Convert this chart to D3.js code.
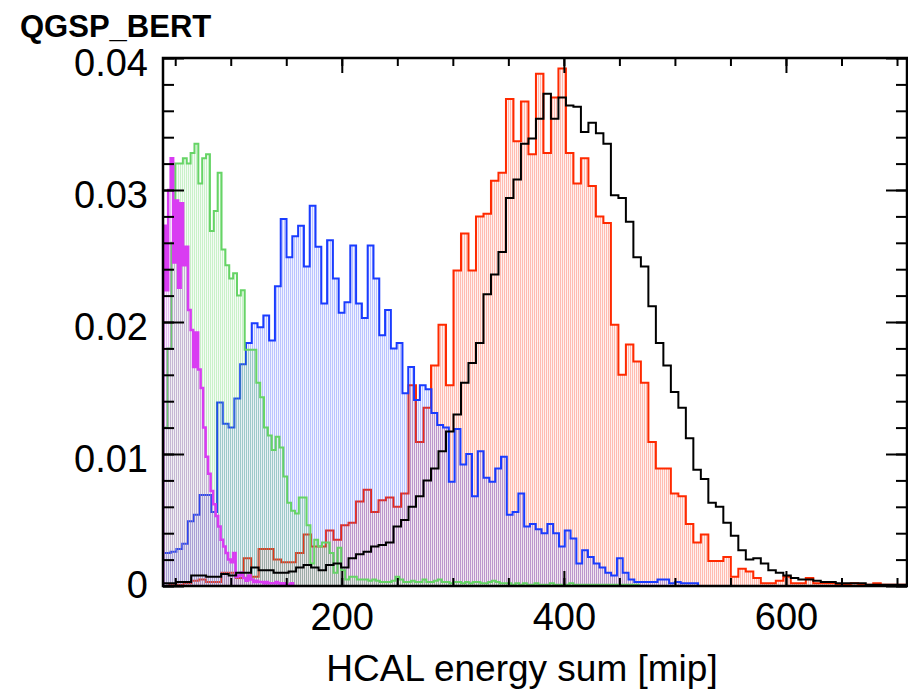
<!DOCTYPE html>
<html>
<head>
<meta charset="utf-8">
<script src="https://d3js.org/d3.v7.min.js"></script>
<style>
  body { margin: 0; background: #fff; }
  text { font-family: "Liberation Sans", Arial, sans-serif; }
</style>
</head>
<body>
<svg width="908" height="694"></svg>
<script>
// axis ticks
var xMajor = [200, 400, 600];
var xMinor = [50, 100, 150, 200, 250, 300, 350, 400, 450, 500, 550, 600, 650, 700];
var yMajor = [0, 0.01, 0.02, 0.03, 0.04];
var yLabels = ['0', '0.01', '0.02', '0.03', '0.04'];
var yMinor = [0, 0.002, 0.004, 0.006, 0.008, 0.01, 0.012, 0.014, 0.016, 0.018, 0.02,
              0.022, 0.024, 0.026, 0.028, 0.03, 0.032, 0.034, 0.036, 0.038, 0.04];

// histograms: first bin low edge, bin width, contents
var magStart = 39.15, magWidth = 2.25;
var magVals = [0.0273, 0.0224, 0.0300, 0.0324, 0.0245, 0.0292, 0.0226, 0.0290, 0.0243, 0.0257,
  0.0209, 0.0194, 0.0166, 0.0192, 0.0164, 0.0150, 0.0120, 0.0098, 0.0085, 0.0072,
  0.0062, 0.0053, 0.0045, 0.0035, 0.0030, 0.0025, 0.0020, 0.0018, 0.0025, 0.0007,
  0.0008, 0.0010, 0.0006, 0.0004, 0.0008, 0.0005, 0.0003, 0.0004, 0.0003, 0.0003,
  0.0002, 0.0003, 0.0002, 0.0002, 0.0002, 0.0003, 0.0002, 0.0001, 0.0002, 0.0001,
  0.0001, 0.0002];

var greenStart = 39.5, greenWidth = 3.48;
var greenVals = [0.012, 0.018, 0.026, 0.0320, 0.0320, 0.0324, 0.0320, 0.0328, 0.0335, 0.0305,
  0.0324, 0.0327, 0.0269, 0.0284, 0.0313, 0.0255, 0.0243, 0.0233, 0.0237, 0.0220,
  0.0224, 0.0179, 0.0179, 0.0179, 0.0154, 0.0143, 0.0120, 0.0114, 0.0103, 0.0113,
  0.0105, 0.0083, 0.0063, 0.0057, 0.0055, 0.0067, 0.0067, 0.0046, 0.0017, 0.0035,
  0.0030, 0.0033, 0.0033, 0.0025, 0.0010, 0.0029, 0.0012, 0.0005, 0.0007, 0.0007,
  0.0005, 0.0005, 0.0005, 0.0004, 0.0005, 0.0004, 0.0003, 0.0003, 0.0003, 0.0004,
  0.0007, 0.0005, 0.0003, 0.0003, 0.0004, 0.0003, 0.0003, 0.0005, 0.0003, 0.0003,
  0.0004, 0.0005, 0.0003, 0.0003, 0.0002, 0.0003, 0.0003, 0.0002, 0.0003, 0.0002,
  0.0003, 0.0003, 0.0002, 0.0002, 0.0003, 0.0004, 0.0003, 0.0002, 0.0002, 0.0002,
  0.0001, 0.0002, 0.0001, 0.0002, 0.0001, 0.0001, 0.0002, 0.0001, 0.0001, 0.0001,
  0.0002, 0.0001, 0.0001, 0.0001, 0.0001, 0.0002, 0.0001, 0.0001, 0.0001, 0.0001,
  0.0001, 0.0001, 0.0001, 0.0001, 0.0001, 0.0001, 0.0001, 0.0001, 0.0001, 0.0001,
  0.0001, 0.0001, 0.0001];

var blueStart = 35.4, blueWidth = 5.22;
var blueVals = [0.0025, 0.0025, 0.0026, 0.0028, 0.0032, 0.0049, 0.0054, 0.0069, 0.0069, 0.0056,
  0.0139, 0.0123, 0.0120, 0.0142, 0.0168, 0.0184, 0.0199, 0.0196, 0.0205, 0.0186,
  0.0227, 0.0278, 0.0249, 0.0265, 0.0273, 0.0242, 0.0288, 0.0257, 0.0214, 0.0262,
  0.0233, 0.0207, 0.0215, 0.0258, 0.0214, 0.0203, 0.0258, 0.0233, 0.0190, 0.0209,
  0.0180, 0.0184, 0.0146, 0.0166, 0.0141, 0.0152, 0.0149, 0.0131, 0.0122, 0.0120,
  0.0079, 0.0119, 0.0092, 0.0100, 0.0068, 0.0102, 0.0082, 0.0079, 0.0089, 0.0098,
  0.0054, 0.0056, 0.0070, 0.0045, 0.0047, 0.0043, 0.0040, 0.0047, 0.0040, 0.0030,
  0.0042, 0.0036, 0.0017, 0.0027, 0.0022, 0.0017, 0.0014, 0.0010, 0.0008, 0.0021,
  0.0010, 0.0005, 0.0003, 0.0003, 0.0003, 0.0003, 0.0005, 0.0005, 0.0002, 0.0003,
  0.0002, 0.0002, 0.0002];

var redStart = 37.35, redWidth = 6.75;
var redVals = [0, 0.0001, 0.0001, 0.0002, 0.0004, 0.0005, 0.0003, 0.0003, 0.0010, 0.0010,
  0.0006, 0.0021, 0.0007, 0.0028, 0.0028, 0.0020, 0.0018, 0.0018, 0.0025, 0.0039,
  0.0030, 0.0030, 0.0042, 0.0035, 0.0046, 0.0048, 0.0064, 0.0073, 0.0056, 0.0065,
  0.0067, 0.0060, 0.0070, 0.0152, 0.0109, 0.0135, 0.0167, 0.0198, 0.0152, 0.0239,
  0.0267, 0.0239, 0.0280, 0.0282, 0.0307, 0.0313, 0.0369, 0.0337, 0.0367, 0.0327,
  0.0388, 0.0328, 0.0370, 0.0392, 0.0328, 0.0305, 0.0324, 0.0303, 0.0280, 0.0275,
  0.0198, 0.0160, 0.0183, 0.0170, 0.0154, 0.0109, 0.0089, 0.0089, 0.0070, 0.0068,
  0.0047, 0.0033, 0.0039, 0.0019, 0.0019, 0.0022, 0.0007, 0.0013, 0.0011, 0.0006,
  0.0002, 0.0002, 0.0004, 0.0007, 0.0002, 0.0002, 0.0006, 0.0002, 0.0002, 0.0002,
  0.0001, 0.0001, 0.0002, 0.0001, 0.0001, 0.0002, 0.0001, 0.0001, 0.0001, 0.0001];

var blackStart = 37.35, blackWidth = 6.75;
var blackVals = [0.0002, 0.0002, 0.0003, 0.0003, 0.0008, 0.0008, 0.0007, 0.0007, 0.0009, 0.0008,
  0.0010, 0.0010, 0.0014, 0.0012, 0.0012, 0.0010, 0.0010, 0.0011, 0.0014, 0.0016,
  0.0014, 0.0012, 0.0016, 0.0017, 0.0014, 0.0021, 0.0024, 0.0026, 0.0030, 0.0031,
  0.0033, 0.0045, 0.0050, 0.0060, 0.0068, 0.0080, 0.0089, 0.0102, 0.0117, 0.0130,
  0.0154, 0.0169, 0.0184, 0.0221, 0.0236, 0.0253, 0.0294, 0.0308, 0.0335, 0.0339,
  0.0354, 0.0373, 0.0354, 0.0370, 0.0364, 0.0363, 0.0344, 0.0351, 0.0343, 0.0335,
  0.0296, 0.0294, 0.0276, 0.0249, 0.0242, 0.0212, 0.0184, 0.0167, 0.0147, 0.0135,
  0.0112, 0.0088, 0.0081, 0.0063, 0.0060, 0.0048, 0.0038, 0.0027, 0.0020, 0.0021,
  0.0017, 0.0012, 0.0010, 0.0008, 0.0006, 0.0005, 0.0005, 0.0004, 0.0003, 0.0003,
  0.0002, 0.0002, 0.0002, 0.0002, 0.0001, 0.0001, 0.0001, 0.0001, 0.0001, 0.0001];

var svg = d3.select('svg');
var plotL = 163, plotR = 907, plotT = 58, plotB = 586;

var xs = d3.scaleLinear().domain([39, 709]).range([plotL, plotR]);
var ys = d3.scaleLinear().domain([0, 0.04]).range([plotB, plotT]);

var defs = svg.append('defs');
defs.append('clipPath').attr('id', 'plot')
  .append('rect').attr('x', plotL).attr('y', plotT)
  .attr('width', plotR - plotL).attr('height', plotB - plotT);

// ROOT-like vertical hatch fills
function hatch(id, color, alpha) {
  var p = defs.append('pattern').attr('id', id)
    .attr('patternUnits', 'userSpaceOnUse').attr('width', 2).attr('height', 8);
  p.append('rect').attr('width', 1.2).attr('height', 8)
    .attr('fill', color).attr('fill-opacity', alpha);
}
hatch('hRed', 'rgb(255,70,40)', 0.36);
hatch('hBlue', 'rgb(60,80,255)', 0.34);
hatch('hGreen', 'rgb(100,215,100)', 0.34);
hatch('hMag', 'rgb(190,90,225)', 0.38);

var line = d3.line().x(function(d) { return xs(d[0]); }).y(function(d) { return ys(d[1]); });

function steps(start, width, vals) {
  var pts = [[start, 0]];
  vals.forEach(function(v, i) {
    pts.push([start + i * width, v]);
    pts.push([start + (i + 1) * width, v]);
  });
  pts.push([start + vals.length * width, 0]);
  return pts;
}

var g = svg.append('g').attr('clip-path', 'url(#plot)');

function hist(start, width, vals, fill, stroke, sw) {
  var pts = steps(start, width, vals);
  if (fill) {
    g.append('path').attr('d', line(pts) + 'Z')
      .attr('fill', fill).attr('stroke', 'none');
  }
  g.append('path').attr('d', line(pts))
    .attr('fill', 'none').attr('stroke', stroke)
    .attr('stroke-width', sw).attr('stroke-linejoin', 'miter');
}

// draw order as in the picture
hist(redStart, redWidth, redVals, 'url(#hRed)', '#ff2a00', 2);
hist(blueStart, blueWidth, blueVals, 'url(#hBlue)', '#1a3cff', 2);
hist(greenStart, greenWidth, greenVals, 'url(#hGreen)', '#66d466', 2);
hist(magStart, magWidth, magVals, 'url(#hMag)', '#d93cf2', 2.5);
hist(blackStart, blackWidth, blackVals, null, '#000', 2);

// axes with inward ticks
function styleAxis(sel) {
  sel.select('.domain').remove();
  sel.selectAll('line').attr('stroke', '#000').attr('stroke-width', 2);
  sel.selectAll('text').attr('font-size', 38)
    .attr('font-family', '"Liberation Sans", Arial, sans-serif').attr('fill', '#000');
}

svg.append('g').attr('transform', 'translate(0,' + plotB + ')')
  .call(d3.axisBottom(xs).tickValues(xMinor).tickSize(-8).tickFormat('')).call(styleAxis);
svg.append('g').attr('transform', 'translate(0,' + plotB + ')')
  .call(d3.axisBottom(xs).tickValues(xMajor).tickSize(-15).tickPadding(17)
    .tickFormat(d3.format('d'))).call(styleAxis);
svg.append('g').attr('transform', 'translate(0,' + plotT + ')')
  .call(d3.axisTop(xs).tickValues(xMinor).tickSize(-8).tickFormat('')).call(styleAxis);
svg.append('g').attr('transform', 'translate(0,' + plotT + ')')
  .call(d3.axisTop(xs).tickValues(xMajor).tickSize(-15).tickFormat('')).call(styleAxis);

svg.append('g').attr('transform', 'translate(' + plotL + ',0)')
  .call(d3.axisLeft(ys).tickValues(yMinor).tickSize(-11).tickFormat('')).call(styleAxis);
var yl = svg.append('g').attr('transform', 'translate(' + plotL + ',0)')
  .call(d3.axisLeft(ys).tickValues(yMajor).tickSize(-21).tickPadding(15)
    .tickFormat(function(d, i) { return yLabels[i]; })).call(styleAxis);
yl.selectAll('text').attr('dy', function(d) { return d === 0 ? '0.3em' : '0.47em'; });
svg.append('g').attr('transform', 'translate(' + plotR + ',0)')
  .call(d3.axisRight(ys).tickValues(yMinor).tickSize(-11).tickFormat('')).call(styleAxis);
svg.append('g').attr('transform', 'translate(' + plotR + ',0)')
  .call(d3.axisRight(ys).tickValues(yMajor).tickSize(-21).tickFormat('')).call(styleAxis);

// frame
svg.append('rect').attr('x', plotL).attr('y', plotT)
  .attr('width', plotR - plotL).attr('height', plotB - plotT)
  .attr('fill', 'none').attr('stroke', '#000').attr('stroke-width', 2.5);

// texts
svg.append('text').attr('x', 20).attr('y', 37)
  .style('font-size', '31px').style('font-weight', 'bold')
  .text('QGSP_BERT');

svg.append('text').attr('x', 522).attr('y', 681)
  .style('text-anchor', 'middle').style('font-size', '37px')
  .text('HCAL energy sum [mip]');
</script>
</body>
</html>
